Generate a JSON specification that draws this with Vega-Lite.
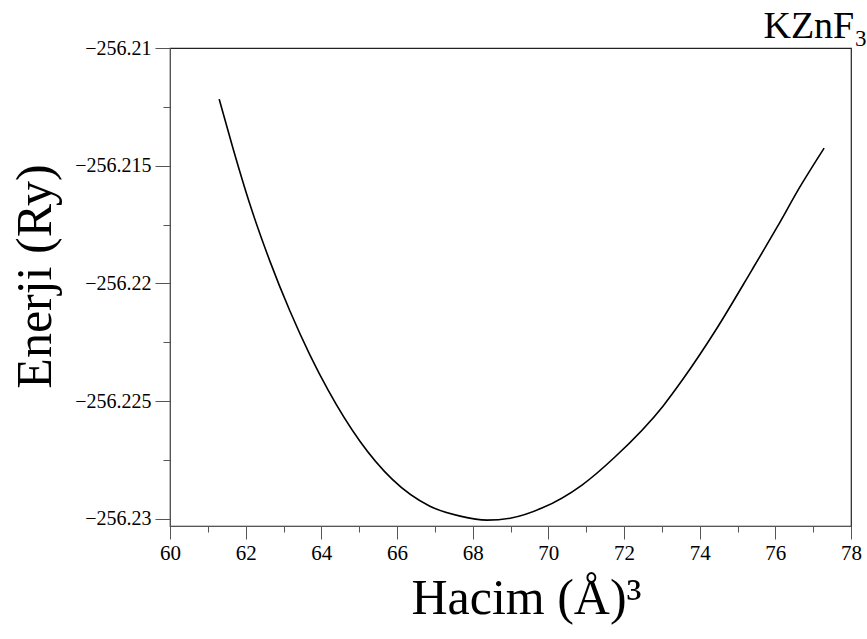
{
  "$schema": "https://vega.github.io/schema/vega-lite/v6.json",
  "width": 681,
  "height": 478,
  "autosize": "none",
  "padding": {"left": 170, "top": 48, "right": 16, "bottom": 113},
  "background": "white",
  "title": {"text": "KZnF₃", "anchor": "end", "font": "Liberation Serif", "fontSize": 38, "fontWeight": "normal", "color": "black", "offset": 0, "dy": 8, "dx": 6},
  "config": {
    "view": {"stroke": "#222", "strokeWidth": 1.2},
    "axis": {"domainColor": "#555", "tickColor": "#555", "grid": false, "labelFont": "Liberation Serif", "titleFont": "Liberation Serif", "labelColor": "black", "titleColor": "black", "titleFontWeight": "normal"}
  },
  "data": {"values": [
    {"v": 61.30, "e": -256.21217},
    {"v": 61.67, "e": -256.21429},
    {"v": 62.11, "e": -256.21663},
    {"v": 62.64, "e": -256.21905},
    {"v": 63.17, "e": -256.22117},
    {"v": 63.70, "e": -256.22304},
    {"v": 64.18, "e": -256.22453},
    {"v": 65.02, "e": -256.22670},
    {"v": 65.87, "e": -256.22831},
    {"v": 66.87, "e": -256.22946},
    {"v": 67.67, "e": -256.22988},
    {"v": 68.38, "e": -256.23005},
    {"v": 68.99, "e": -256.22997},
    {"v": 69.83, "e": -256.22954},
    {"v": 70.89, "e": -256.22856},
    {"v": 71.76, "e": -256.22737},
    {"v": 73.03, "e": -256.22521},
    {"v": 73.56, "e": -256.22406},
    {"v": 74.41, "e": -256.22202},
    {"v": 75.38, "e": -256.21943},
    {"v": 76.05, "e": -256.21760},
    {"v": 76.65, "e": -256.21590},
    {"v": 77.29, "e": -256.21425}
  ]},
  "mark": {"type": "line", "color": "black", "strokeWidth": 1.6, "interpolate": "monotone"},
  "encoding": {
    "x": {"field": "v", "type": "quantitative",
      "scale": {"domain": [60, 78], "nice": false, "zero": false},
      "axis": {"title": "Hacim (Å)³", "titleFontSize": 50, "titlePadding": 10, "titleX": 356,
        "values": [60,61,62,63,64,65,66,67,68,69,70,71,72,73,74,75,76,77,78],
        "labelExpr": "datum.value % 2 == 0 ? datum.label : ''",
        "labelFontSize": 21,
        "tickSize": {"condition": {"test": "datum.value % 2 == 0", "value": 13}, "value": 6},
        "labelPadding": 3, "labelFlush": false, "labelOverlap": false}},
    "y": {"field": "e", "type": "quantitative",
      "scale": {"domain": [-256.2303, -256.21], "nice": false, "zero": false},
      "axis": {"title": "Enerji (Ry)", "titleFontSize": 50, "titlePadding": 14, "titleY": 228,
        "values": [-256.21, -256.2125, -256.215, -256.2175, -256.22, -256.2225, -256.225, -256.2275, -256.23],
        "labelExpr": "abs(datum.value*200 - round(datum.value*200)) < 0.001 ? format(datum.value, '.3~f') : ''",
        "labelFontSize": 20,
        "tickSize": {"condition": {"test": "abs(datum.value*200 - round(datum.value*200)) < 0.001", "value": 15}, "value": 7},
        "labelPadding": 4, "labelFlush": false, "labelOverlap": false}}
  }
}
